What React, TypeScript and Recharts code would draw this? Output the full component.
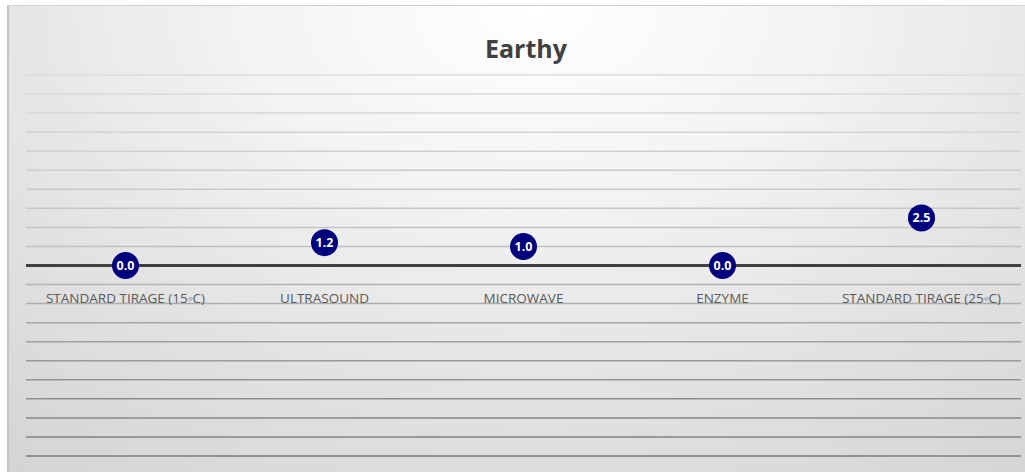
import { LineChart, Line, XAxis, YAxis, CartesianGrid, ReferenceLine, LabelList } from "recharts";

const categories = [
  "STANDARD TIRAGE (15◦C)",
  "ULTRASOUND",
  "MICROWAVE",
  "ENZYME",
  "STANDARD TIRAGE (25◦C)",
];
const earthyScores = [0.0, 1.2, 1.0, 0.0, 2.5];
const yTicks = [-10, -9, -8, -7, -6, -5, -4, -3, -2, -1, 0, 1, 2, 3, 4, 5, 6, 7, 8, 9, 10];

const data = categories.map((name, i) => ({ name, earthy: earthyScores[i] }));

const W = 1016;
const H = 466;
const xAxisH = 1;
const margin = { top: 69, right: 4, bottom: 15, left: 17 };
const yMin = yTicks[0];
const yMax = yTicks[yTicks.length - 1];
const plotW = W - margin.left - margin.right;
const plotH = H - margin.top - margin.bottom - xAxisH;
const zeroY = margin.top + (plotH * (yMax - 0)) / (yMax - yMin);
// half a category band on each side, like an Excel category axis
const halfBand = plotW / categories.length / 2;

const CategoryTick = (props: any) => {
  const { x, payload } = props;
  return (
    <text
      x={x}
      y={zeroY + 37}
      textAnchor="middle"
      fill="#595959"
      fontSize={13.5}
      fontFamily="'Open Sans', sans-serif"
    >
      {payload.value}
    </text>
  );
};

export default function App() {
  return (
    <div
      style={{
        position: "absolute",
        left: 7,
        top: 5,
        width: W,
        height: H,
        borderLeft: "2px solid #c4c4c4",
        borderTop: "1px solid #d0d0d0",
        background:
          "radial-gradient(ellipse 90% 130% at 52% 0%, #ffffff 0%, #f4f4f4 30%, #e2e2e2 65%, #d2d2d2 100%)",
      }}
    >
      <div
        style={{
          position: "absolute",
          top: 25,
          left: 18,
          right: 0,
          textAlign: "center",
          fontFamily: "'Open Sans', sans-serif",
          fontWeight: 700,
          fontSize: 25,
          color: "#404040",
        }}
      >
        Earthy
      </div>
      <LineChart width={W} height={H} data={data} margin={margin} style={{ position: "absolute", left: 0, top: 0 }}>
        <defs>
          <linearGradient id="gridShade" gradientUnits="userSpaceOnUse" x1="0" y1="0" x2="0" y2={H}>
            <stop offset="0%" stopColor="#e6e6e6" />
            <stop offset="50%" stopColor="#c2c2c2" />
            <stop offset="100%" stopColor="#767676" />
          </linearGradient>
        </defs>
        <CartesianGrid vertical={false} stroke="url(#gridShade)" strokeWidth={1.5} />
        <XAxis
          dataKey="name"
          axisLine={false}
          tickLine={false}
          tickSize={0}
          tickMargin={0}
          height={xAxisH}
          interval={0}
          padding={{ left: halfBand, right: halfBand }}
          tick={CategoryTick}
        />
        <YAxis
          domain={[yMin, yMax]}
          ticks={yTicks}
          interval={0}
          width={0}
          axisLine={false}
          tickLine={false}
          tick={{ fill: "none", fontSize: 1 }}
        />
        <ReferenceLine y={0} stroke="#404040" strokeWidth={3} />
        <Line
          dataKey="earthy"
          stroke="none"
          isAnimationActive={false}
          dot={{ r: 13.5, fill: "#00007f", stroke: "none" }}
          activeDot={false}
        >
          <LabelList
            dataKey="earthy"
            position="center"
            fill="#ffffff"
            fontSize={12.5}
            fontWeight={700}
            fontFamily="'Open Sans', sans-serif"
            formatter={(v: any) => Number(v).toFixed(1)}
          />
        </Line>
      </LineChart>
    </div>
  );
}
